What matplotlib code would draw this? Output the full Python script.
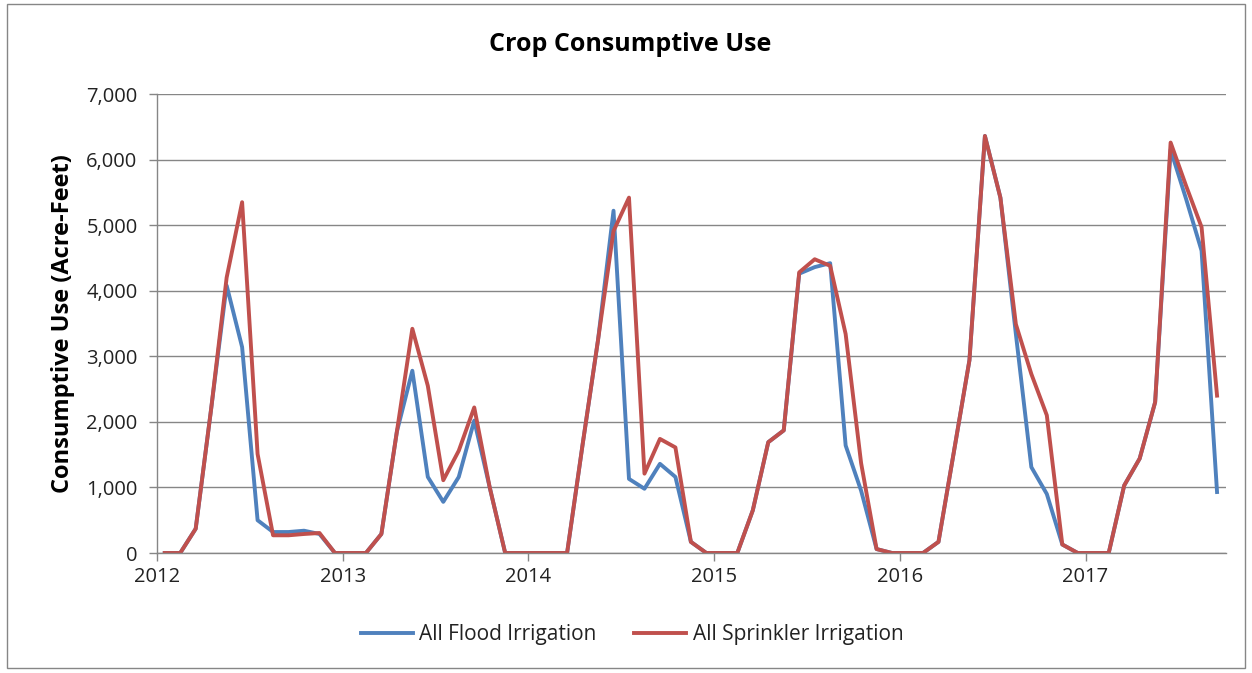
import matplotlib.pyplot as plt
from matplotlib.patches import Rectangle
from matplotlib.ticker import FuncFormatter

# monthly data, Jan 2012 - Sep 2017
years = [2012, 2013, 2014, 2015, 2016, 2017]

flood = [
    0, 0, 370, 2200, 4080, 3140, 500, 320, 320, 340, 290, 0,          # 2012
    0, 0, 290, 1850, 2780, 1160, 780, 1160, 2020, 1000, 0, 0,         # 2013
    0, 0, 0, 1650, 3250, 5220, 1130, 980, 1360, 1160, 170, 0,         # 2014
    0, 0, 650, 1690, 1870, 4260, 4360, 4420, 1640, 950, 60, 0,        # 2015
    0, 0, 170, 1550, 2940, 6360, 5420, 3340, 1310, 900, 130, 0,       # 2016
    0, 0, 1030, 1440, 2300, 6150, 5400, 4610, 930,                    # 2017
]
sprinkler = [
    0, 0, 370, 2200, 4200, 5350, 1510, 270, 270, 290, 305, 0,
    0, 0, 290, 1850, 3420, 2550, 1110, 1560, 2220, 1000, 0, 0,
    0, 0, 0, 1650, 3250, 4910, 5420, 1210, 1740, 1610, 170, 0,
    0, 0, 650, 1690, 1870, 4280, 4480, 4380, 3340, 1370, 60, 0,
    0, 0, 170, 1550, 2940, 6360, 5420, 3490, 2730, 2100, 130, 0,
    0, 0, 1030, 1440, 2300, 6260, 5600, 4970, 2400,
]

# mid-month positions in decimal years
x = [2012 + (i + 0.5) / 12 for i in range(len(flood))]

blue = "#4F81BD"
red = "#C0504D"
grid = "#868686"

plt.rcParams['font.family'] = ['Open Sans', 'DejaVu Sans']

fig = plt.figure(figsize=(12.52, 6.73), dpi=100)
ax = fig.add_axes([0.1254, 0.1783, 0.979 - 0.1254, 0.8603 - 0.1783])

ax.plot(x, flood, color=blue, lw=2.8, label="All Flood Irrigation")
ax.plot(x, sprinkler, color=red, lw=2.8, label="All Sprinkler Irrigation")

ax.set_xlim(2012, 2017.755)
ax.set_ylim(0, 7000)
ax.set_xticks(years)
ax.set_xticklabels([str(y) for y in years])
ax.set_yticks(range(0, 7001, 1000))
ax.yaxis.set_major_formatter(FuncFormatter(lambda v, p: f"{int(v):,}"))

ax.grid(axis="y", color=grid, lw=1)
ax.set_axisbelow(True)
for s in ["top", "right"]:
    ax.spines[s].set_visible(False)
for s in ["left", "bottom"]:
    ax.spines[s].set_color(grid)
    ax.spines[s].set_linewidth(1)
ax.tick_params(axis="both", colors=grid, length=6, width=1, labelsize=14.5,
               labelcolor="#222222")
ax.tick_params(axis="y", pad=8)
ax.tick_params(axis="x", pad=4)

ax.set_ylabel("Consumptive Use (Acre-Feet)", fontsize=17, fontweight="bold",
              labelpad=8)
fig.text(0.503, 0.934, "Crop Consumptive Use", ha="center", va="center",
         fontsize=18, fontweight="bold")

leg = fig.legend(loc="center", bbox_to_anchor=(0.505, 0.057), ncol=2,
                 frameon=False, fontsize=15, handlelength=2.5,
                 columnspacing=1.8, handletextpad=0.3)
for t in leg.get_texts():
    t.set_color("#222222")

fig.patches.append(Rectangle((0.0056, 0.007), 0.989, 0.987,
                             transform=fig.transFigure, fill=False,
                             edgecolor=grid, lw=1))

fig.savefig("out.png", dpi=100)
